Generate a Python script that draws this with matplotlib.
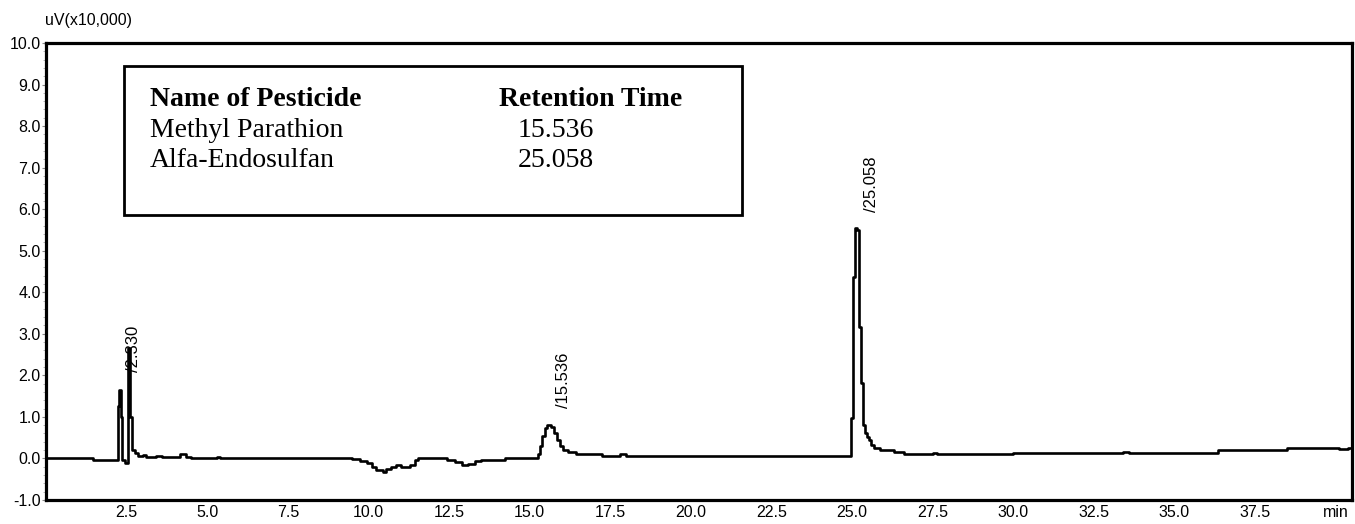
import matplotlib.pyplot as plt
from matplotlib.patches import Rectangle
from matplotlib.ticker import MultipleLocator, FixedLocator

# chromatogram trace (time in min, signal in uV x10,000)
time = [0.0, 1.45, 2.22, 2.26, 2.32, 2.36, 2.44, 2.53, 2.60, 2.66, 2.75, 2.85,
        3.0, 3.1, 3.4, 3.6, 4.15, 4.35, 4.5, 5.3, 5.4,
        9.5, 9.75, 9.95, 10.1, 10.25, 10.45, 10.55, 10.7, 10.85, 11.0, 11.3,
        11.45, 11.55, 12.45, 12.7, 12.9, 13.1, 13.3, 13.5, 14.25,
        15.25, 15.32, 15.40, 15.47, 15.55, 15.65, 15.75, 15.85, 15.95, 16.05,
        16.2, 16.45, 17.25, 17.8, 18.0,
        24.98, 25.04, 25.10, 25.16, 25.22, 25.28, 25.34, 25.40, 25.46, 25.52,
        25.58, 25.68, 25.88, 26.29, 26.6, 27.5, 27.65, 30.0, 33.4, 33.6,
        36.35, 38.5, 40.1, 40.4, 40.5]
signal = [0.0, -0.03, 1.25, 1.65, 1.0, -0.05, -0.12, 2.65, 1.0, 0.2, 0.12, 0.05,
          0.08, 0.03, 0.06, 0.03, 0.1, 0.04, 0.0, 0.04, 0.0,
          -0.02, -0.06, -0.12, -0.2, -0.28, -0.32, -0.26, -0.2, -0.16, -0.2, -0.16,
          -0.05, 0.0, -0.03, -0.08, -0.15, -0.13, -0.07, -0.04, 0.02,
          0.1, 0.3, 0.55, 0.72, 0.8, 0.75, 0.62, 0.45, 0.3, 0.2,
          0.16, 0.1, 0.05, 0.1, 0.05,
          0.98, 4.37, 5.55, 5.5, 3.17, 1.82, 0.8, 0.6, 0.52, 0.45,
          0.33, 0.25, 0.2, 0.16, 0.11, 0.14, 0.11, 0.12, 0.15, 0.14,
          0.19, 0.24, 0.22, 0.26, 0.26]

peak_labels = ["/2.330", "/15.536", "/25.058"]
peak_label_x = [2.70, 16.05, 25.6]
peak_label_y = [2.08, 1.22, 5.93]

pesticides = ["Methyl Parathion", "Alfa-Endosulfan"]
retention = ["15.536", "25.058"]

x_ticks = [2.5, 5.0, 7.5, 10.0, 12.5, 15.0, 17.5, 20.0, 22.5, 25.0,
           27.5, 30.0, 32.5, 35.0, 37.5, 40.0]
x_tick_labels = ["2.5", "5.0", "7.5", "10.0", "12.5", "15.0", "17.5", "20.0",
                 "22.5", "25.0", "27.5", "30.0", "32.5", "35.0", "37.5", "min"]

plt.rcParams['font.family'] = ['Liberation Sans', 'DejaVu Sans']

fig = plt.figure(figsize=(13.55, 5.24), dpi=100)
ax = fig.add_axes([0.034, 0.046, 0.9635, 0.872])

ax.plot(time, signal, drawstyle='steps-post', color='black', lw=1.9)

ax.set_xlim(0, 40.5)
ax.set_ylim(-1.0, 10.0)
ax.xaxis.set_major_locator(FixedLocator(x_ticks))
ax.set_xticklabels(x_tick_labels)
ax.yaxis.set_major_locator(MultipleLocator(1.0))
ax.yaxis.set_minor_locator(MultipleLocator(0.2))
ax.yaxis.set_major_formatter(plt.FormatStrFormatter('%.1f'))
ax.tick_params(axis='both', labelsize=11.5, direction='out')
ax.tick_params(axis='x', length=0, pad=4)
ax.tick_params(axis='y', which='major', length=3, width=0.8, pad=1, color='#888888')
ax.tick_params(axis='y', which='minor', length=2, width=0.6, color='#aaaaaa')
for s in ax.spines.values():
    s.set_linewidth(2.3)

for lab, lx, ly in zip(peak_labels, peak_label_x, peak_label_y):
    ax.text(lx, ly, lab, rotation=90, ha='center', va='bottom', fontsize=12)

fig.text(0.033, 0.96, "uV(x10,000)", fontsize=11.5, va='center', ha='left')

# table box with retention times
ax.add_patch(Rectangle((0.0597, 0.624), 0.4733, 0.326, transform=ax.transAxes,
                       fill=False, lw=2.0, ec='black', zorder=5))
serif = ['Liberation Serif', 'DejaVu Serif']
ax.text(0.0795, 0.877, "Name of Pesticide", transform=ax.transAxes,
        family=serif, fontsize=20, fontweight='bold', va='center')
ax.text(0.347, 0.877, "Retention Time", transform=ax.transAxes,
        family=serif, fontsize=20, fontweight='bold', va='center')
for i, (name, rt) in enumerate(zip(pesticides, retention)):
    yy = 0.809 - i * 0.0655
    ax.text(0.0795, yy, name, transform=ax.transAxes, family=serif,
            fontsize=20, va='center')
    ax.text(0.361, yy, rt, transform=ax.transAxes, family=serif,
            fontsize=20, va='center')

plt.savefig("out.png", dpi=100)
